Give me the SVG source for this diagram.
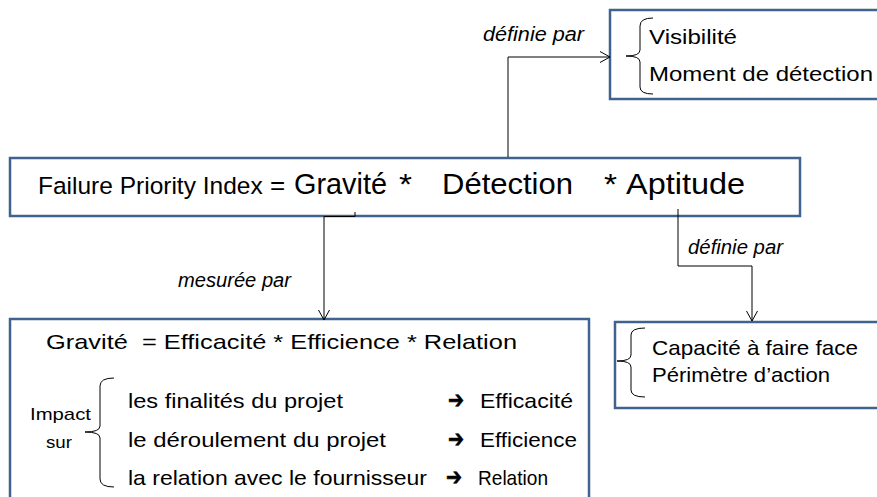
<svg xmlns="http://www.w3.org/2000/svg" width="877" height="497" viewBox="0 0 877 497">
<style>
.box{fill:#fff;stroke:#40628f;stroke-width:2.5}
.t{font-family:"Liberation Sans",Arial,sans-serif;fill:#000}
.it{font-family:"Liberation Sans",Arial,sans-serif;font-style:italic;fill:#000;font-size:20px}
.ln{fill:none;stroke:#000;stroke-width:1}
.arw{font-family:"DejaVu Sans",sans-serif;font-size:24px;font-weight:bold;fill:#000;stroke:#000;stroke-width:0.6}
</style>
<defs>
<marker id="ah" markerUnits="userSpaceOnUse" markerWidth="12" markerHeight="14" refX="10" refY="6" orient="auto">
<path d="M0,0.5 L10,6 L0,11.5" fill="none" stroke="#000" stroke-width="1"/>
</marker>
</defs>
<rect width="877" height="497" fill="#fff"/>
<g id="detection-box">
<rect class="box" x="610" y="10" width="280" height="89"/>
<path class="ln" d="M653,18 Q640,18 640,26 L640,50 Q640,56 626,56 Q640,56 640,62 L640,87 Q640,94 653,94"/>
<text class="t" x="649" y="44" font-size="21" textLength="88" lengthAdjust="spacingAndGlyphs">Visibilité</text>
<text class="t" x="649" y="81" font-size="21" textLength="224" lengthAdjust="spacingAndGlyphs">Moment de détection</text>
</g>
<g id="fpi-box">
<rect class="box" x="10" y="158" width="790" height="58"/>
<text class="t" x="38" y="194" font-size="24.5">Failure Priority Index</text>
<text class="t" x="270" y="194" font-size="26">=</text>
<text class="t" x="294" y="194" font-size="29" textLength="93" lengthAdjust="spacingAndGlyphs">Gravité</text>
<text class="t" x="399" y="194" font-size="29" textLength="13" lengthAdjust="spacingAndGlyphs">*</text>
<text class="t" x="442" y="194" font-size="29" textLength="131" lengthAdjust="spacingAndGlyphs">Détection</text>
<text class="t" x="604" y="194" font-size="29" textLength="13" lengthAdjust="spacingAndGlyphs">*</text>
<text class="t" x="626" y="194" font-size="29" textLength="119" lengthAdjust="spacingAndGlyphs">Aptitude</text>
</g>
<g id="gravite-box">
<rect class="box" x="10" y="319" width="579" height="200"/>
<text class="t" x="46" y="349" font-size="21" textLength="471" lengthAdjust="spacingAndGlyphs" xml:space="preserve">Gravité  = Efficacité * Efficience * Relation</text>
<text class="t" x="30" y="420" font-size="17" textLength="61" lengthAdjust="spacingAndGlyphs">Impact</text>
<text class="t" x="46" y="448" font-size="17" textLength="26" lengthAdjust="spacingAndGlyphs">sur</text>
<path class="ln" d="M114,378 Q100,378 100,386 L100,426 Q100,432 85,432 Q100,432 100,438 L100,479 Q100,487 114,487"/>
<text class="t" x="128" y="408" font-size="21" textLength="215" lengthAdjust="spacingAndGlyphs">les finalités du projet</text>
<text class="t" x="128" y="447" font-size="21" textLength="258" lengthAdjust="spacingAndGlyphs">le déroulement du projet</text>
<text class="t" x="128" y="485" font-size="21" textLength="299" lengthAdjust="spacingAndGlyphs">la relation avec le fournisseur</text>
<text class="arw" x="448" y="408" textLength="16" lengthAdjust="spacingAndGlyphs">➔</text>
<text class="arw" x="448" y="447" textLength="16" lengthAdjust="spacingAndGlyphs">➔</text>
<text class="arw" x="446" y="485" textLength="16" lengthAdjust="spacingAndGlyphs">➔</text>
<text class="t" x="480" y="408" font-size="21" textLength="93" lengthAdjust="spacingAndGlyphs">Efficacité</text>
<text class="t" x="480" y="447" font-size="21" textLength="97" lengthAdjust="spacingAndGlyphs">Efficience</text>
<text class="t" x="478" y="485" font-size="21" textLength="70" lengthAdjust="spacingAndGlyphs">Relation</text>
</g>
<g id="aptitude-box">
<rect class="box" x="615" y="322" width="275" height="86"/>
<path class="ln" d="M645,328 Q631,328 631,335 L631,355 Q631,361 617,361 Q631,361 631,367 L631,390 Q631,397 645,397"/>
<text class="t" x="652" y="355" font-size="21" textLength="206" lengthAdjust="spacingAndGlyphs">Capacité à faire face</text>
<text class="t" x="652" y="382" font-size="21" textLength="178" lengthAdjust="spacingAndGlyphs">Périmètre d’action</text>
</g>
<g id="connectors">
<path class="ln" d="M508,157 L508,57 L610,57" marker-end="url(#ah)"/>
<path class="ln" d="M355,212 L355,216.5 L324,216.5 L324,320" marker-end="url(#ah)"/>
<path class="ln" d="M678,209 L678,266 L752,266 L752,321" marker-end="url(#ah)"/>
<text class="it" x="483" y="41" textLength="101" lengthAdjust="spacingAndGlyphs">définie par</text>
<text class="it" x="688" y="254" textLength="95" lengthAdjust="spacingAndGlyphs">définie par</text>
<text class="it" x="178" y="287" textLength="113" lengthAdjust="spacingAndGlyphs">mesurée par</text>
</g>
</svg>
